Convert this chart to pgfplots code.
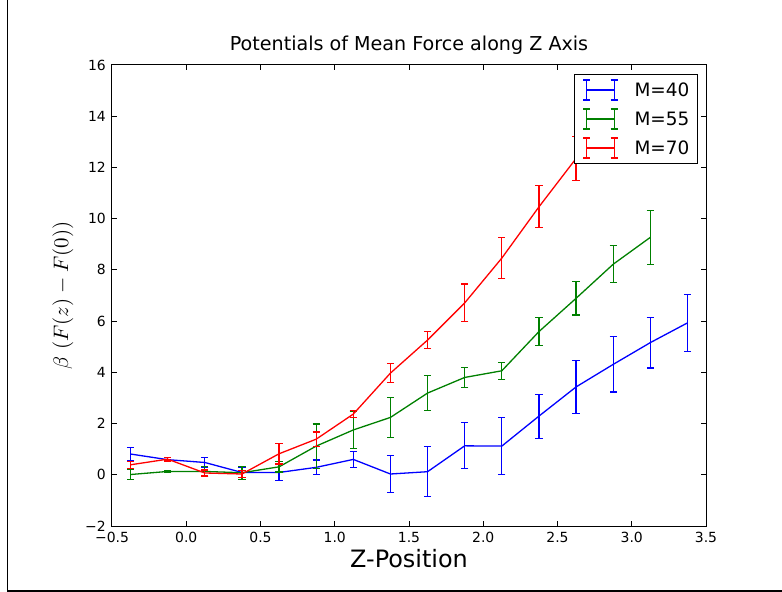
\documentclass[border=0pt]{standalone}
\usepackage{graphicx}
\usepackage{pgfplots}
\pgfplotsset{compat=1.18}
\usepackage{fontspec}
\setmainfont{DejaVu Sans}
\definecolor{mplblue}{rgb}{0,0,1}
\definecolor{mplgreen}{rgb}{0,0.5,0}
\definecolor{mplred}{rgb}{1,0,0}
\pgfplotsset{
  ebleg/.style={legend image code/.code={
    \draw[##1,line width=1.3bp] (0bp,0bp) -- (27.6bp,0bp);
    \draw[##1,line width=1.2bp] (0bp,-10bp) -- (0bp,10bp);
    \draw[##1,line width=1.2bp] (27.6bp,-10bp) -- (27.6bp,10bp);
    \draw[##1,line width=1.2bp] (-3.5bp,-10bp) -- (3.5bp,-10bp);
    \draw[##1,line width=1.2bp] (-3.5bp,10bp) -- (3.5bp,10bp);
    \draw[##1,line width=1.2bp] (24.1bp,-10bp) -- (31.1bp,-10bp);
    \draw[##1,line width=1.2bp] (24.1bp,10bp) -- (31.1bp,10bp);
  }},
  ebstyle/.style={#1, line width=1.3bp, ebleg,
    error bars/.cd, y dir=both, y explicit,
    error bar style={line width=1.2bp, #1},
    error mark options={rotate=90, line width=1.2bp, mark size=3.6bp, #1}},
}
\begin{document}
\begin{tikzpicture}
\path[use as bounding box] (-112bp,-66bp) rectangle (670bp,526bp);
\draw[line width=1.3bp] (-104.5bp,526bp) -- (-104.5bp,-65bp) -- (670bp,-65bp);
\begin{axis}[
  at={(0,0)}, anchor=south west,
  scale only axis, width=594bp, height=461bp,
  xmin=-0.5, xmax=3.5, ymin=-2, ymax=16,
  xtick={-0.5,0,0.5,1,1.5,2,2.5,3,3.5},
  xticklabels={−0.5,0.0,0.5,1.0,1.5,2.0,2.5,3.0,3.5},
  ytick={-2,0,2,4,6,8,10,12,14,16},
  yticklabels={−2,0,2,4,6,8,10,12,14,16},
  tick align=inside, major tick length=5bp,
  every tick/.style={black, line width=1bp},
  axis line style={line width=1bp},
  tick label style={font=\fontsize{14}{16}\selectfont},
  xticklabel style={inner sep=0pt, anchor=north, yshift=-5.7bp},
  yticklabel style={inner sep=0pt, anchor=east, xshift=-6bp},
  title={Potentials of Mean Force along Z Axis},
  title style={at={(axis description cs:0.5,1.0174)}, anchor=base, inner sep=0pt, font=\fontsize{19.2}{22}\selectfont},
  xlabel={Z-Position},
  xlabel style={at={(axis description cs:0.5,-0.0905)}, anchor=base, inner sep=0pt, font=\fontsize{24}{28}\selectfont},
  ylabel={\scalebox{2.1}{$\beta\ (F(z)-F(0))$}},
  ylabel style={at={(axis description cs:-0.0825,0.5)}, anchor=center, inner sep=0pt},
  legend style={at={(1,1)}, anchor=north east, xshift=-7.7bp, yshift=-9bp,
    draw=black, line width=1bp, fill=white, font=\fontsize{18.5}{22}\selectfont,
    inner xsep=8.5bp, inner ysep=5bp, row sep=7.8bp, column sep=16.2bp,
    nodes={inner sep=0pt}},
  legend cell align=left,
]
\addplot[ebstyle=mplblue] coordinates {
(-0.375,0.81) +- (0,0.26)
(-0.125,0.59) +- (0,0.08)
(0.125,0.48) +- (0,0.18)
(0.375,0.09) +- (0,0.20)
(0.625,0.09) +- (0,0.30)
(0.875,0.29) +- (0,0.29)
(1.125,0.60) +- (0,0.32)
(1.375,0.03) +- (0,0.72)
(1.625,0.12) +- (0,0.97)
(1.875,1.13) +- (0,0.90)
(2.125,1.12) +- (0,1.12)
(2.375,2.29) +- (0,0.86)
(2.625,3.43) +- (0,1.03)
(2.875,4.31) +- (0,1.08)
(3.125,5.16) +- (0,0.99)
(3.375,5.93) +- (0,1.11)
};
\addlegendentry{M=40}
\addplot[ebstyle=mplgreen] coordinates {
(-0.375,0.01) +- (0,0.19)
(-0.125,0.13) +- (0,0.05)
(0.125,0.13) +- (0,0.20)
(0.375,0.08) +- (0,0.25)
(0.625,0.31) +- (0,0.20)
(0.875,1.12) +- (0,0.86)
(1.125,1.75) +- (0,0.73)
(1.375,2.24) +- (0,0.78)
(1.625,3.19) +- (0,0.69)
(1.875,3.80) +- (0,0.38)
(2.125,4.06) +- (0,0.33)
(2.375,5.59) +- (0,0.55)
(2.625,6.89) +- (0,0.65)
(2.875,8.22) +- (0,0.72)
(3.125,9.27) +- (0,1.06)
};
\addlegendentry{M=55}
\addplot[ebstyle=mplred] coordinates {
(-0.375,0.39) +- (0,0.13)
(-0.125,0.61) +- (0,0.07)
(0.125,0.07) +- (0,0.12)
(0.375,0.03) +- (0,0.15)
(0.625,0.82) +- (0,0.40)
(0.875,1.39) +- (0,0.28)
(1.125,2.37) +- (0,0.14)
(1.375,3.97) +- (0,0.37)
(1.625,5.26) +- (0,0.33)
(1.875,6.71) +- (0,0.74)
(2.125,8.46) +- (0,0.80)
(2.375,10.46) +- (0,0.82)
(2.625,12.35) +- (0,0.85)
};
\addlegendentry{M=70}
\end{axis}
\end{tikzpicture}
\end{document}
